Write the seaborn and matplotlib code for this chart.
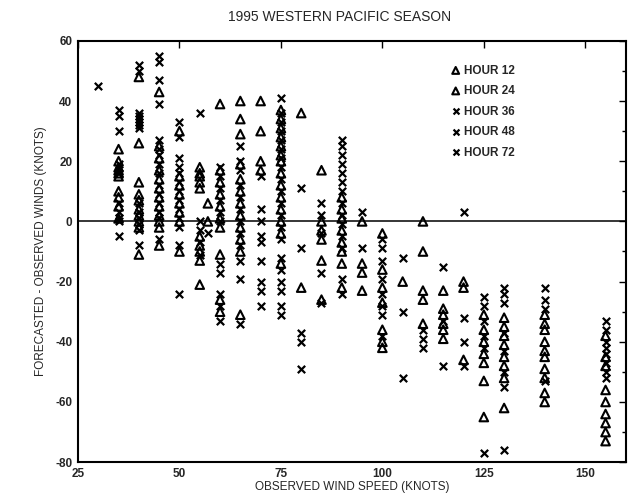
import matplotlib
matplotlib.use("Agg")
import matplotlib.pyplot as plt
import seaborn as sns
import pandas as pd

# ---- data ----
speeds = [30, 35, 40, 45, 50, 55, 57, 60, 65, 70, 75, 80, 85, 90, 95, 100,
          105, 110, 115, 120, 125, 130, 140, 155]

tri_vals = {
    30: [],
    35: [24, 20, 18, 17, 16, 15, 10, 8, 5, 1],
    40: [48, 26, 13, 9, 7, 4, 2, 0, -2, -11],
    45: [43, 25, 21, 17, 14, 11, 8, 5, 2, 0, -2, -8],
    50: [30, 15, 12, 9, 6, 3, 0, -10],
    55: [18, 16, 15, 13, 11, -5, -8, -10, -13, -21],
    57: [6, 0],
    60: [39, 17, 13, 9, 5, 1, -2, -11, -26, -30],
    65: [40, 34, 29, 19, 14, 10, 6, 2, -2, -6, -10, -31],
    70: [40, 30, 20, 17],
    75: [37, 34, 31, 28, 25, 22, 20, 16, 12, 8, 4, 0, -4, -14],
    80: [36, -22],
    85: [17, 0, -3, -6, -13, -26],
    90: [8, 4, 1, -3, -7, -10, -14, -22],
    95: [0, -14, -17, -23],
    100: [-4, -16, -22, -27, -36, -40, -42],
    105: [-20],
    110: [0, -10, -23, -26, -34],
    115: [-23, -29, -31, -34, -36, -39],
    120: [-20, -22, -46],
    125: [-31, -36, -40, -44, -47, -53, -65],
    130: [-32, -35, -38, -41, -45, -48, -52, -62],
    140: [-31, -34, -36, -40, -43, -45, -49, -52, -57, -60],
    155: [-38, -45, -48, -56, -60, -64, -67, -70, -73],
}

cross_vals = {
    30: [45],
    35: [37, 35, 30, 19, 16, 6, 3, 1, 0, -5],
    40: [52, 50, 36, 35, 34, 33, 32, 31, 6, 3, 1, -1, -3, -8],
    45: [55, 53, 47, 39, 27, 24, 22, 19, 16, 12, 9, 6, 3, 1, -6],
    50: [33, 28, 21, 18, 16, 13, 10, 7, 4, 1, -2, -8, -24],
    55: [36, 0, -3, -7, -11],
    57: [-4],
    60: [18, 15, 11, 7, 3, 0, -14, -17, -24, -28, -33],
    65: [25, 20, 17, 12, 8, 4, 0, -4, -8, -13, -19, -34],
    70: [15, 4, 0, -5, -7, -13, -20, -23, -28],
    75: [41, 36, 33, 30, 27, 24, 21, 18, 14, 10, 6, 2, -2, -6, -12, -16,
         -20, -23, -28, -31],
    80: [11, -9, -37, -40, -49],
    85: [6, 2, -4, -17, -27],
    90: [27, 25, 22, 19, 16, 13, 10, 6, 2, -1, -5, -9, -19, -24],
    95: [3, -9],
    100: [-6, -9, -13, -19, -24, -28, -31, -38],
    105: [-12, -30, -52],
    110: [-36, -39, -42],
    115: [-15, -33, -48],
    120: [3, -32, -40, -48],
    125: [-25, -28, -33, -38, -42, -77],
    130: [-22, -24, -27, -37, -43, -50, -55, -76],
    140: [-22, -26, -29, -53],
    155: [-33, -36, -40, -42, -44, -47, -50, -52],
}

tri_hours = ["HOUR 12", "HOUR 24"]
cross_hours = ["HOUR 36", "HOUR 48", "HOUR 72"]
x_ticks = [25, 50, 75, 100, 125, 150]
y_ticks = [60, 40, 20, 0, -20, -40, -60, -80]

# ---- build table ----
rows = []
for s in speeds:
    for i, v in enumerate(tri_vals[s]):
        rows.append((s, v, tri_hours[i % 2]))
    for i, v in enumerate(cross_vals[s]):
        rows.append((s, v, cross_hours[i % 3]))
df = pd.DataFrame(rows, columns=["speed", "err", "hour"])

sns.set_theme(style="white")
plt.rcParams["font.family"] = ["Liberation Sans", "DejaVu Sans"]
plt.rcParams["axes.unicode_minus"] = False

fig = plt.figure(figsize=(6.29, 5.04), dpi=100)
ax = fig.add_axes([0.124, 0.083, 0.871, 0.836])

ax.axhline(0, color="black", lw=1.1, zorder=1)

for h in tri_hours:
    d = df[df.hour == h]
    sns.scatterplot(data=d, x="speed", y="err", marker="^", s=38,
                    facecolor="none", edgecolor="black", linewidth=1.5,
                    label=h, ax=ax, zorder=3)
for h in cross_hours:
    d = df[df.hour == h]
    sns.scatterplot(data=d, x="speed", y="err", marker="x", s=28,
                    color="black", linewidth=1.6, label=h, ax=ax, zorder=3)

ax.set_xlim(25, 160)
ax.set_ylim(-80, 60)
ax.set_xticks(x_ticks)
ax.set_yticks(y_ticks)
ax.set_yticks(list(range(-70, 60, 20)), minor=True)
ax.tick_params(axis="both", which="both", direction="in", top=True,
               right=True, color="black", width=1.0)
ax.tick_params(which="major", length=5, labelsize=8.5, pad=4)
ax.tick_params(which="minor", length=3)
for lab in ax.get_xticklabels() + ax.get_yticklabels():
    lab.set_fontweight("bold")
for sp in ax.spines.values():
    sp.set_color("black")
    sp.set_linewidth(1.5)

ax.set_xlabel("OBSERVED WIND SPEED (KNOTS)", fontsize=8.5, labelpad=1)
ax.set_ylabel("FORECASTED - OBSERVED WINDS (KNOTS)", fontsize=8.5, labelpad=6)
fig.text(0.54, 0.967, "1995 WESTERN PACIFIC SEASON", ha="center",
         va="center", fontsize=10)

leg = ax.legend(loc="upper left", bbox_to_anchor=(0.67, 0.955), frameon=False,
                fontsize=8.5, handletextpad=0.2, labelspacing=0.72,
                borderaxespad=0, handlelength=1.0, markerscale=0.8)
for t in leg.get_texts():
    t.set_fontweight("bold")

fig.savefig("out.png", dpi=100)
